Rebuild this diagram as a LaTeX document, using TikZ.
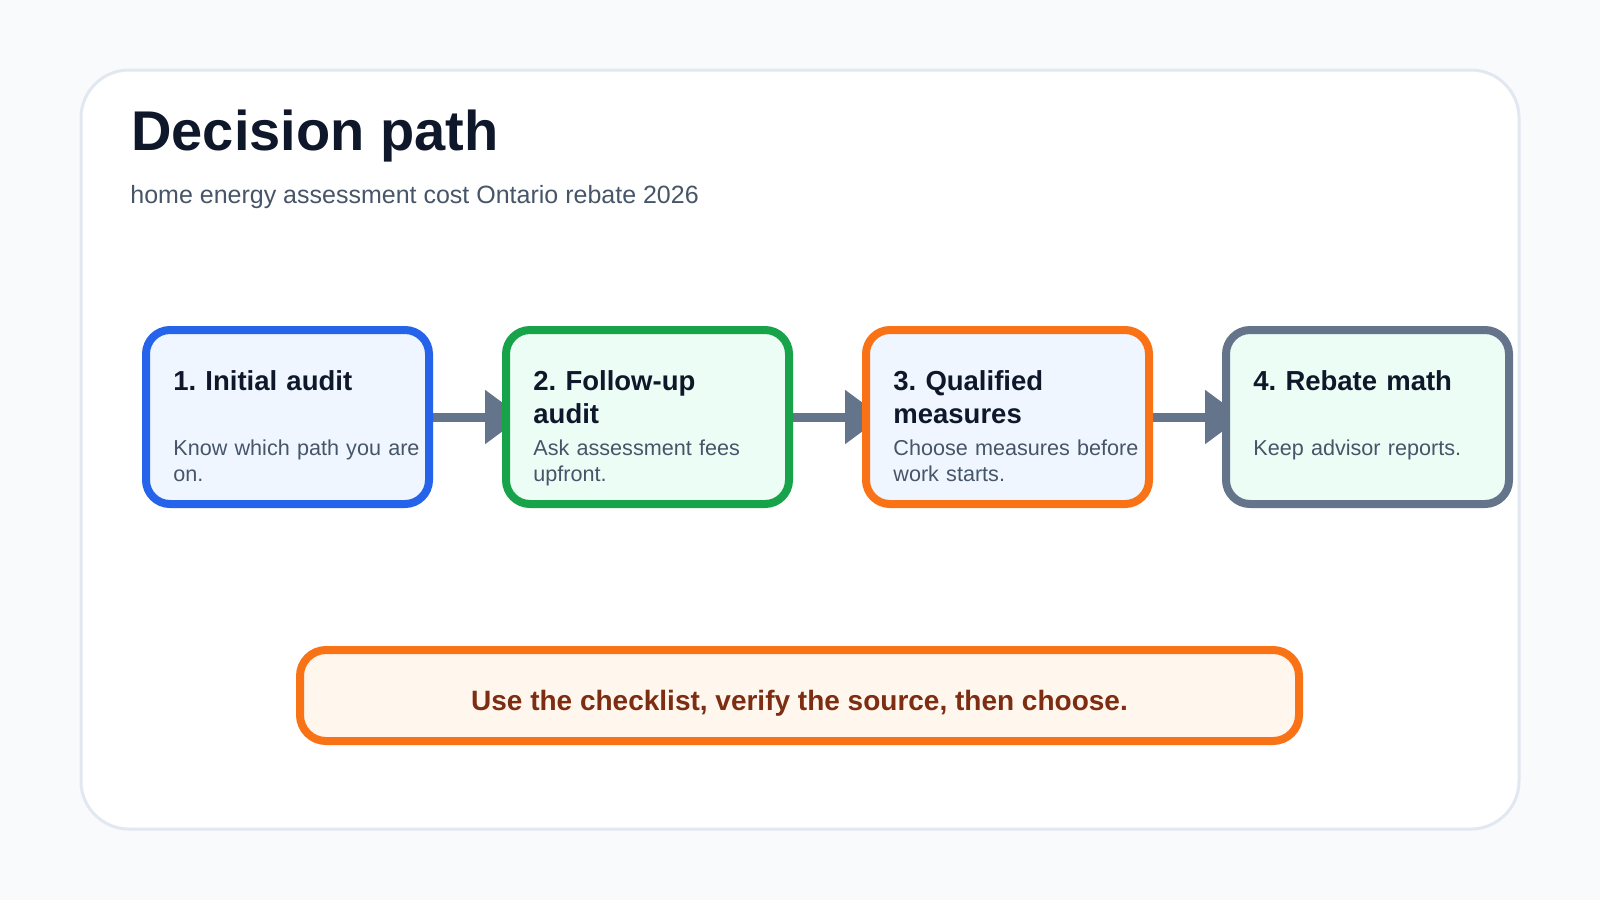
\documentclass[tikz,border=0pt]{standalone}
\usepackage{fontspec}
\setmainfont{Liberation Sans}
\usetikzlibrary{arrows.meta,calc}
\frenchspacing
\definecolor{bgc}{HTML}{F8FAFC}
\definecolor{cardline}{HTML}{E2E8F0}
\definecolor{ink}{HTML}{0F172A}
\definecolor{subink}{HTML}{475569}
\definecolor{blueline}{HTML}{2563EB}
\definecolor{bluefill}{HTML}{EFF6FF}
\definecolor{greenline}{HTML}{16A34A}
\definecolor{greenfill}{HTML}{ECFDF5}
\definecolor{orangeline}{HTML}{F97316}
\definecolor{slateline}{HTML}{64748B}
\definecolor{notefill}{HTML}{FFF7ED}
\definecolor{noteink}{HTML}{7C2D12}
\tikzset{
  stepbox/.style={rectangle, rounded corners=12pt, line width=4pt, outer sep=0pt,
    minimum width=141.5pt, minimum height=87pt, inner sep=0pt},
  steptitle/.style={anchor=base west, inner sep=0pt, text width=128pt, align=left,
    text=ink, font=\frenchspacing\fontsize{13.75pt}{16.5pt}\selectfont\bfseries},
  stepbody/.style={anchor=base west, inner sep=0pt, text width=128pt, align=left,
    text=subink, font=\frenchspacing\fontsize{10.8pt}{13.4pt}\selectfont},
  flow/.style={draw=slateline, line width=4.5pt, line cap=round,
    -{Triangle[length=18.5pt,width=26pt]}},
}
\begin{document}
\begin{tikzpicture}[x=0.5pt,y=-0.5pt]
\useasboundingbox (0,0) rectangle (1600,900);
\fill[bgc] (0,0) rectangle (1600,900);
\draw[cardline, fill=white, line width=1.5pt, rounded corners=24pt] (81,70) rectangle (1519,829);
\node[anchor=base west, inner sep=0pt, text=ink, font=\fontsize{28pt}{32pt}\selectfont\bfseries] (title) at (131,150) {Decision path};
\node[anchor=base west, inner sep=0pt, text=subink, font=\fontsize{12.5pt}{15pt}\selectfont] (subtitle) at (130,203) {home energy assessment cost Ontario rebate 2026};
% boxes (positions)
\coordinate (c1) at (287.5,417);
\coordinate (c2) at (647.5,417);
\coordinate (c3) at (1007.5,417);
\coordinate (c4) at (1367.5,417);
\path (c1) node[stepbox] (b1) {};
\path (c2) node[stepbox] (b2) {};
\path (c3) node[stepbox] (b3) {};
\path (c4) node[stepbox] (b4) {};
% arrows under boxes
\draw[flow] (b1.east) -- ($(b2.west)+(16,0)$);
\draw[flow] (b2.east) -- ($(b3.west)+(16,0)$);
\draw[flow] (b3.east) -- ($(b4.west)+(16,0)$);
% boxes drawn on top
\path (c1) node[stepbox, draw=blueline, fill=bluefill] (b1) {};
\path (c2) node[stepbox, draw=greenline, fill=greenfill] (b2) {};
\path (c3) node[stepbox, draw=orangeline, fill=bluefill] (b3) {};
\path (c4) node[stepbox, draw=slateline, fill=greenfill] (b4) {};
% texts
\node[steptitle] (t1) at ($(b1.north west)+(27,60)$) {1. Initial audit};
\node[stepbody] (d1) at ($(b1.north west)+(27,125)$) {Know which path you are\\on.};
\node[steptitle] (t2) at ($(b2.north west)+(27,60)$) {2. Follow-up\\audit};
\node[stepbody] (d2) at ($(b2.north west)+(27,125)$) {Ask assessment fees\\upfront.};
\node[steptitle] (t3) at ($(b3.north west)+(27,60)$) {3. Qualified\\measures};
\node[stepbody] (d3) at ($(b3.north west)+(27,125)$) {Choose measures before\\work starts.};
\node[steptitle] (t4) at ($(b4.north west)+(27,60)$) {4. Rebate math};
\node[stepbody] (d4) at ($(b4.north west)+(27,125)$) {Keep advisor reports.};
% note
\node[rectangle, rounded corners=13pt, line width=4pt, draw=orangeline, fill=notefill,
  minimum width=499.5pt, minimum height=45.5pt, inner sep=0pt, outer sep=0pt,
  text=noteink, font=\frenchspacing\fontsize{14pt}{16.5pt}\selectfont\bfseries,
  text height=14.5pt, text depth=0pt] (note) at (799.5,695.5)
  {Use the checklist, verify the source, then choose.};
\end{tikzpicture}
\end{document}
